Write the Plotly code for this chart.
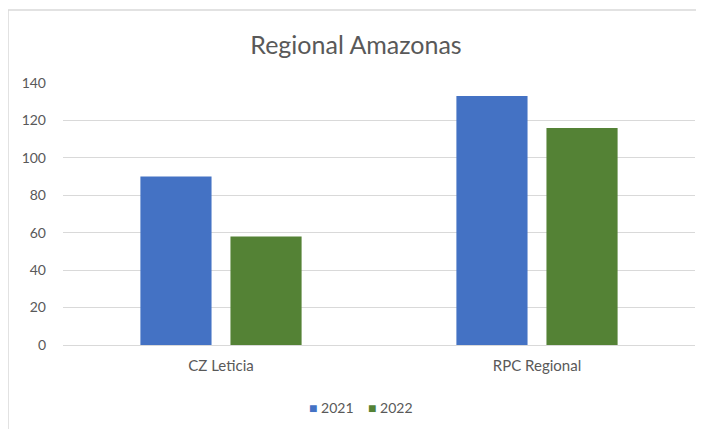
import plotly.graph_objects as go

categories = ["CZ Leticia", "RPC Regional"]
series_names = ["2021", "2022"]
values_2021 = [90, 133]
values_2022 = [58, 116]
y_ticks = [0, 20, 40, 60, 80, 100, 120, 140]

colors = ["#4472C4", "#548235"]
font_family = "Lato, 'Open Sans', sans-serif"
text_color = "#595959"

# page body has an 8px margin; compensate so the picture lands where the reference has it
OFF = 8
W, H = 704 - OFF, 429 - OFF
L = 63 - OFF
T = 83 - OFF
bottom_px = 345 - OFF
right_px = 695 - OFF
R = W - right_px
B = H - bottom_px
pw = W - L - R
ph = H - T - B

def px_x(p):
    return (p - OFF - L) / pw

def px_y(p):
    return (bottom_px - (p - OFF)) / ph

fig = go.Figure()
for name, vals, col in zip(series_names, [values_2021, values_2022], colors):
    fig.add_trace(go.Bar(x=categories, y=vals, name=name, marker=dict(color=col, line=dict(width=0)),
                         showlegend=False))

fig.update_layout(
    width=W, height=H,
    margin=dict(l=L, r=R, t=T, b=B, autoexpand=False),
    paper_bgcolor="white", plot_bgcolor="white",
    barmode="group", bargap=0.43, bargroupgap=0.21,
    font=dict(family=font_family, size=13, color=text_color),
    title=dict(text="Regional Amazonas", x=0.5, xanchor="center", y=1 - (45 - OFF) / H, yanchor="middle",
               font=dict(size=25, color=text_color, family=font_family), automargin=False),
    xaxis=dict(showgrid=False, showline=True, linecolor="#D9D9D9", linewidth=1, ticks="",
               ticklabelstandoff=7, tickfont=dict(size=15, color=text_color), automargin=False),
    yaxis=dict(range=[0, 140], tickvals=y_ticks, showgrid=True, gridcolor="#D9D9D9", gridwidth=1,
               zeroline=False, showline=False, ticks="", ticklabelstandoff=16,
               tickfont=dict(size=14, color=text_color), automargin=False),
    showlegend=False,
)

# legend drawn as text entries
for name, col, cx in zip(series_names, colors, [331, 390]):
    fig.add_annotation(xref="paper", yref="paper", x=px_x(cx), y=px_y(407), xanchor="center", yanchor="middle",
                       text=f"<span style='color:{col}'>■</span> {name}", showarrow=False,
                       font=dict(size=14, color=text_color, family=font_family))

fig.add_shape(type="line", xref="paper", yref="paper", x0=px_x(8), x1=px_x(704),
              y0=px_y(10), y1=px_y(10), line=dict(color="#D9D9D9", width=1.5))
fig.add_shape(type="line", xref="paper", yref="paper", x0=px_x(8), x1=px_x(8),
              y0=px_y(10), y1=px_y(429), line=dict(color="#D9D9D9", width=1.5))

fig.write_html("out.html")
